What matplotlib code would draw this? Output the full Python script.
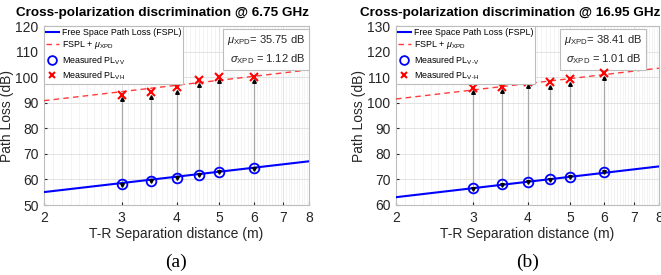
import numpy as np
import matplotlib
matplotlib.use("Agg")
import matplotlib.pyplot as plt
from matplotlib.ticker import FixedLocator, NullFormatter

# ---- data ----
dist = [3, 3.5, 4, 4.5, 5, 6]
freqs_label = ["6.75 GHz", "16.95 GHz"]
fspl_1m = [49.03, 57.03]           # FSPL at 1 m (dB)
mu_xpd = [35.75, 38.41]
sigma_xpd = [1.12, 1.01]
pl_co = [[58.1, 59.5, 60.7, 61.8, 63.0, 64.3],
         [66.5, 68.1, 69.0, 70.1, 71.0, 73.1]]
pl_cross = [[93.2, 94.1, 96.0, 98.8, 100.2, 100.2],
            [105.8, 106.2, 108.2, 108.0, 109.2, 111.5]]
co_labels = ["Measured PL$_{\\mathrm{VV}}$", "Measured PL$_{\\mathrm{V\\text{-}V}}$"]
cross_labels = ["Measured PL$_{\\mathrm{VH}}$", "Measured PL$_{\\mathrm{V\\text{-}H}}$"]
ylims = [(50, 120), (60, 130)]
xticks = [2, 3, 4, 5, 6, 7, 8]
captions = ["(a)", "(b)"]

plt.rcParams['font.family'] = ['Liberation Sans', 'DejaVu Sans']
plt.rcParams['mathtext.fontset'] = 'custom'
plt.rcParams['mathtext.rm'] = 'Liberation Sans'
plt.rcParams['mathtext.it'] = 'Liberation Sans:italic'

fig = plt.figure(figsize=(6.61, 2.75), dpi=100)
W, H = 661, 275
boxes = [(44, 26, 309, 205), (396, 26, 659, 205)]
box_right = [0.985, 0.935]
title_x = [0.449, 0.433]
tc = '#262626'

for i in range(2):
    x0, y0, x1, y1 = boxes[i]
    ax = fig.add_axes([x0 / W, 1 - y1 / H, (x1 - x0) / W, (y1 - y0) / H])
    ax.set_xscale('log')
    xs = np.logspace(np.log10(2), np.log10(8), 100)
    fspl = fspl_1m[i] + 20 * np.log10(xs)
    ax.plot(xs, fspl, color='#0000ff', lw=1.5, label='Free Space Path Loss (FSPL)', zorder=3)
    ax.plot(xs, fspl + mu_xpd[i], color='#ff3b3b', lw=1.0, ls=(0, (4, 3)),
            label='FSPL + $\\mu_{\\mathrm{XPD}}$', zorder=3)
    for d, lo, hi in zip(dist, pl_co[i], pl_cross[i]):
        ax.plot([d, d], [lo - 0.3, hi - 1.6], color='#a8a8a8', lw=0.9, zorder=2)
    ax.plot(dist, [v - 1.8 for v in pl_cross[i]], ls='none', marker='^', ms=2.6, color='k', zorder=4)
    ax.plot(dist, [v - 0.2 for v in pl_co[i]], ls='none', marker='v', ms=2.6, color='k', zorder=4)
    ax.plot(dist, pl_co[i], ls='none', marker='o', ms=7, mfc='none', mec='#0000ff', mew=1.3,
            label=co_labels[i], zorder=5)
    ax.plot(dist, pl_cross[i], ls='none', marker='x', ms=5.5, color='#ff0000', mew=1.5,
            label=cross_labels[i], zorder=5)
    ax.set_xlim(2, 8)
    ax.set_ylim(*ylims[i])
    ax.xaxis.set_major_locator(FixedLocator(xticks))
    ax.set_xticklabels([str(t) for t in xticks])
    ax.xaxis.set_minor_locator(FixedLocator([v for v in np.arange(2.1, 8.0, 0.1)
                                             if all(abs(v - t) > 1e-6 for t in xticks)]))
    ax.xaxis.set_minor_formatter(NullFormatter())
    ax.set_yticks(np.arange(ylims[i][0], ylims[i][1] + 1, 10))
    ax.grid(True, which='major', color='#dedede', lw=0.6)
    ax.grid(True, which='minor', axis='x', color='#eeeeee', lw=0.5)
    ax.set_axisbelow(True)
    ax.tick_params(which='both', direction='in', length=0, labelsize=10, colors=tc, pad=4)
    ax.tick_params(which='major', length=2.5)
    for s in ax.spines.values():
        s.set_color('#bdbdbd')
        s.set_linewidth(0.8)
    ax.set_xlabel('T-R Separation distance (m)', fontsize=10, color=tc, labelpad=2)
    ax.set_ylabel('Path Loss (dB)', fontsize=10, color=tc, labelpad=1)
    ax.set_title('Cross-polarization discrimination @ ' + freqs_label[i], fontsize=9.7,
                 fontweight='bold', pad=7, x=title_x[i])
    leg = ax.legend(loc='upper left', fontsize=6.4, frameon=True, fancybox=False,
                    borderaxespad=0.0, handlelength=1.5, handletextpad=0.3,
                    borderpad=0.2, labelspacing=0.3, edgecolor='#bdbdbd',
                    framealpha=1.0, markerscale=0.9)
    leg.get_frame().set_linewidth(0.8)
    ax.text(box_right[i], 0.96,
            '$\\mu_{\\mathrm{XPD}}$= %.2f dB\n$\\sigma_{\\mathrm{XPD}}$ = %.2f dB' % (mu_xpd[i], sigma_xpd[i]),
            transform=ax.transAxes, ha='right', va='top', fontsize=8, color=tc,
            linespacing=1.5,
            bbox=dict(boxstyle='square,pad=0.35', fc='white', ec='#bdbdbd', lw=0.8))
    fig.text(((x0 + x1) / 2) / W, 1 - 262 / H, captions[i], ha='center', va='center',
             fontsize=14, family='Liberation Serif')

fig.savefig('out.png', dpi=100)
